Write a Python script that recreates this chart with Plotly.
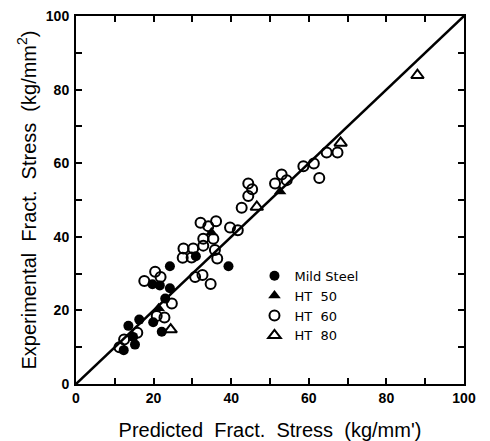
import plotly.graph_objects as go

# Data
mild_x = [24.2, 39.3, 19.7, 21.6, 24.2, 23.0, 30.9, 19.9, 22.1, 16.3, 13.5, 14.7, 12.3, 15.2]
mild_y = [32.0, 32.0, 27.1, 26.8, 26.0, 23.2, 34.7, 16.8, 14.2, 17.5, 15.8, 12.8, 9.2, 10.7]

ht50_x = [52.6, 34.9, 21.3]
ht50_y = [52.3, 41.2, 20.6]

ht60_x = [11.2, 12.4, 15.8, 17.6, 20.4, 21.8, 20.8, 22.8, 24.7, 27.7, 27.5, 30.2, 29.8,
          30.7, 32.6, 34.7, 32.1, 32.8, 32.8, 34.1, 36.1, 35.4, 35.8, 36.4, 39.7, 41.7,
          42.7, 44.4, 45.4, 44.4, 51.3, 53.0, 54.3, 58.6, 61.3, 62.7, 64.6, 67.4]
ht60_y = [10.0, 12.1, 13.9, 28.0, 30.5, 29.1, 18.5, 18.1, 21.9, 36.8, 34.3, 36.8, 34.4,
          29.1, 29.6, 27.2, 43.8, 39.5, 37.6, 42.9, 44.2, 39.5, 36.4, 34.1, 42.5, 41.8,
          47.9, 54.5, 52.9, 51.1, 54.5, 56.9, 55.4, 59.2, 59.9, 56.0, 62.9, 62.9]

ht80_x = [88.0, 68.2, 46.6, 24.4]
ht80_y = [83.9, 65.5, 48.1, 14.8]

line_x = [0, 100]
line_y = [0, 100]

tick_vals = list(range(0, 101, 10))
tick_text = [str(v) if v % 20 == 0 else "" for v in tick_vals]

fig = go.Figure()
fig.add_trace(go.Scatter(x=line_x, y=line_y, mode="lines",
                         line=dict(color="black", width=2.5), showlegend=False,
                         hoverinfo="skip"))
fig.add_trace(go.Scatter(x=mild_x, y=mild_y, mode="markers", name="Mild Steel",
                         marker=dict(symbol="circle", size=10, color="black")))
fig.add_trace(go.Scatter(x=ht50_x, y=ht50_y, mode="markers", name="HT  50",
                         marker=dict(symbol="triangle-up", size=11, color="black")))
fig.add_trace(go.Scatter(x=ht60_x, y=ht60_y, mode="markers", name="HT  60",
                         marker=dict(symbol="circle-open", size=10, color="black",
                                     line=dict(width=2, color="black"))))
fig.add_trace(go.Scatter(x=ht80_x, y=ht80_y, mode="markers", name="HT  80",
                         marker=dict(symbol="triangle-up-open", size=11, color="black",
                                     line=dict(width=2, color="black"))))

axis_common = dict(
    range=[0, 100], tickvals=tick_vals, ticktext=tick_text,
    ticks="inside", ticklen=6, tickwidth=1.5, tickcolor="black",
    showline=True, linecolor="black", linewidth=2, mirror="ticks",
    showgrid=False, zeroline=False, automargin=False,
    tickfont=dict(family="Liberation Sans", size=14, color="black", weight="bold"),
)

fig.update_layout(
    width=490, height=441,
    margin=dict(l=76, r=26, t=16, b=57),
    paper_bgcolor="white", plot_bgcolor="white",
    font=dict(family="Liberation Sans", color="black"),
    xaxis=dict(**axis_common, ticklabelstandoff=0,
               title=dict(text="Predicted  Fract.  Stress  (kg/mm')",
                          font=dict(size=20), standoff=20)),
    yaxis=dict(**axis_common, ticklabelstandoff=2,
               title=dict(text="Experimental  Fract.  Stress  (kg/mm<sup>2</sup>)",
                          font=dict(size=20), standoff=4)),
    legend=dict(x=0.46, y=0.335, xanchor="left", yanchor="top",
                font=dict(family="DejaVu Sans", size=13, color="black"),
                bgcolor="rgba(0,0,0,0)", tracegroupgap=0, itemwidth=30),
)

fig.write_html("out.html")
